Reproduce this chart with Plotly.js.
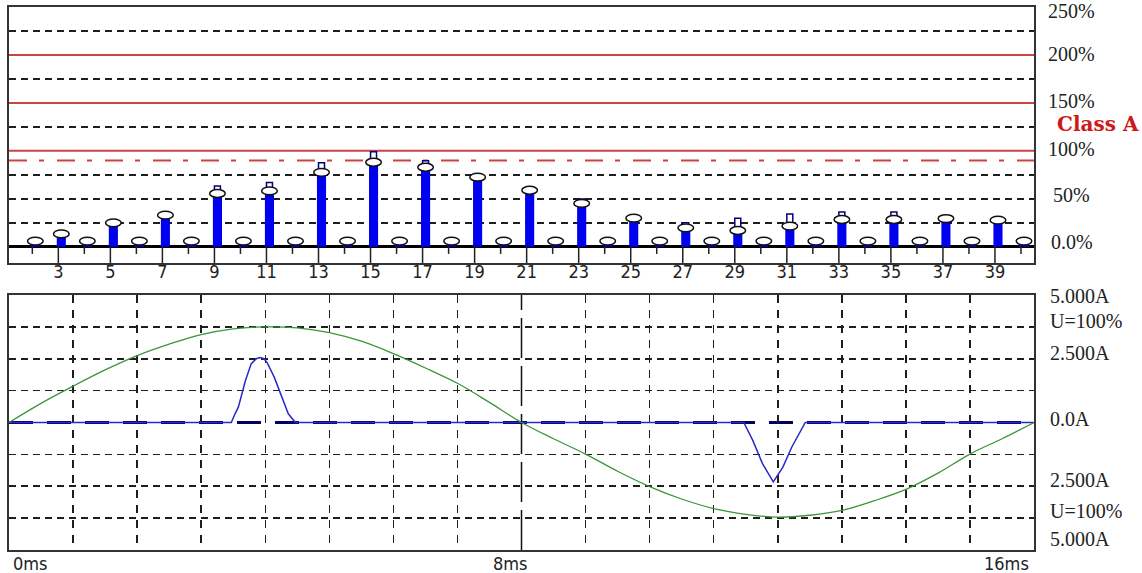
<!DOCTYPE html>
<html><head><meta charset="utf-8">
<script src="https://cdn.plot.ly/plotly-3.0.1.min.js"></script>
<style>html,body{margin:0;padding:0;background:#fff;}#chart{width:1142px;height:573px;}</style>
</head><body><div id="chart"></div>
<script>
// ---------------- data: harmonic spectrum (percent) ----------------
const harmonics = [2,3,4,5,6,7,8,9,10,11,12,13,14,15,16,17,18,19,20,21,22,23,24,25,26,27,28,29,30,31,32,33,34,35,36,37,38,39,40];
const levelPct  = [6,13.5,6,25,6,33,6,55.6,6,58.3,6,77.7,6,88.2,6,83,6,72.6,6,59,6,45.3,6,29.9,6,19.8,6,17,6,21.6,6,28.5,6,28.5,6,29.5,6,27.8,6];
const maxPct    = [6,13.5,6,25,6,33,6,63.2,6,67.1,6,87.5,6,99,6,89.6,6,72.6,6,59,6,49.7,6,29.9,6,25,6,29.6,6,34.1,6,36.1,6,36.1,6,29.5,6,27.8,6];
const harmonicTickVals = [3,5,7,9,11,13,15,17,19,21,23,25,27,29,31,33,35,37,39];
const pctLabelVals = [0,50,100,150,200,250];
const pctLabelText = ['0.0%','50%','100%','150%','200%','250%'];
const pctGridVals = [25,50,75,125,175,225];
const limitPct = [100,150,200];
const classALimitPct = 90;
const classAText = 'Class A';
const classALabelPct = 128;

// ---------------- data: waveform ----------------
const timeMs     = [0,0.5,1,1.5,2,2.5,3,3.5,4,4.5,5,5.5,6,6.5,7,7.5,8,8.5,9,9.5,10,10.5,11,11.5,12,12.5,13,13.5,14,14.5,15,15.5,16];
const voltagePct = [0,20,38,55,70,82,92,98,100,99,94,85,72,57,41,21,0,-17,-33,-51,-67,-80,-90,-96,-99,-97,-92,-82,-70,-53,-33,-17,0];
const currentTimeMs = [0,3.47,3.53,3.58,3.69,3.78,3.86,3.92,3.98,4.03,4.14,4.25,4.36,4.47,11.47,11.61,11.76,11.93,12.08,12.22,12.43,16];
const currentA      = [0,0,0.35,0.6,1.64,2.3,2.5,2.55,2.5,2.35,1.78,1.05,0.34,0,0,-0.7,-1.6,-2.33,-1.75,-0.96,0,0];
const timeGridMs = [1,2,3,4,5,6,7,9,10,11,12,13,14,15];
const centerMs = 8;
const ampGridVals = [-3.75,-2.5,-1.25,1.25,2.5,3.75];
const timeLabelVals = [0,8,16];
const timeLabelText = ['0ms','8ms','16ms'];
const ampLabelVals = [5,2.5,0,-2.5,-5];
const ampLabelText = ['5.000A','2.500A','0.0A','2.500A','5.000A'];
const voltLabelVals = [100,-100];
const voltLabelText = ['U=100%','U=100%'];

// ---------------- styles ----------------
const FRAME = '#333';
const GRID = '#1e1e1e';
const RED = '#c94444';
const barShift = 0.115;            // bars sit slightly right of stems
const pctLabelShift = [4.7,3.7,1.7,1.5,1.3,-3.5];
const ampLabelShift = [-0.8,6.2,3.7,6.2,10.7];
const voltLabelShift = [6.2,7.2];
const timeLabelAnchor = ['left','center','right'];
const timeLabelXShift = [2,-11,-3];
const serif = 'Liberation Serif';
const narrow = 'DejaVu Sans Condensed, Liberation Sans Narrow, sans-serif';

const withMax = harmonics.map((h,i)=>i).filter(i => maxPct[i] > levelPct[i]);

const traces = [
  { type:'bar', x:harmonics, y:levelPct, width:0.35, offset:-0.175+barShift,
    marker:{color:'#0000f0'}, xaxis:'x', yaxis:'y', hoverinfo:'skip' },
  { type:'bar', x:withMax.map(i=>harmonics[i]), base:withMax.map(i=>levelPct[i]),
    y:withMax.map(i=>maxPct[i]-levelPct[i]), width:0.23, offset:-0.115+barShift,
    marker:{color:'#ffffff', line:{color:'#000080', width:1.5}}, xaxis:'x', yaxis:'y', hoverinfo:'skip' },
  { type:'scatter', mode:'markers', x:harmonics, y:harmonics.map(()=>0),
    marker:{size:1, opacity:0},
    error_y:{type:'data', symmetric:false, array:harmonics.map(()=>0),
             arrayminus:harmonics.map(h => h % 2 ? 17 : 7.5), width:0, thickness:1.5, color:'#222'},
    xaxis:'x', yaxis:'y', hoverinfo:'skip' },
  { type:'scatter', mode:'lines', x:timeMs, y:voltagePct, xaxis:'x2', yaxis:'y3',
    line:{color:'#3a963a', width:1.3, shape:'spline'}, hoverinfo:'skip' },
  { type:'scatter', mode:'lines', x:currentTimeMs, y:currentA, xaxis:'x2', yaxis:'y2',
    line:{color:'#2828cc', width:1.5}, hoverinfo:'skip' }
];

const shapes = [];
limitPct.forEach(v => shapes.push({type:'line', xref:'x domain', x0:0, x1:1, yref:'y', y0:v, y1:v,
  line:{color:RED, width:2}, layer:'below'}));
shapes.push({type:'line', xref:'x domain', x0:0, x1:1, yref:'y', y0:classALimitPct, y1:classALimitPct,
  line:{color:RED, width:2, dash:'18px,12px,5px,13px'}, layer:'below'});
harmonics.forEach((h,i) => shapes.push({type:'circle', xref:'x', yref:'y',
  xsizemode:'pixel', ysizemode:'pixel', xanchor:h, yanchor:levelPct[i],
  x0:-7.8+3, x1:7.8+3, y0:-4, y1:3.8,
  fillcolor:'#ffffff', line:{color:'#111', width:1.5}}));
shapes.push({type:'line', xref:'x2 domain', x0:0, x1:1, yref:'y2', y0:0, y1:0,
  line:{color:'#000060', width:3, dash:'24px,14px'}, layer:'below'});
shapes.push({type:'line', xref:'x2', x0:centerMs, x1:centerMs, yref:'y2 domain', y0:0, y1:1,
  line:{color:'#111', width:1.5, dash:'40px,8px'}, layer:'below'});

const annotations = [];
pctLabelVals.forEach((v,i) => annotations.push({xref:'paper', x:1, xshift:37.5, xanchor:'center',
  yref:'y', y:v, yshift:pctLabelShift[i], yanchor:'middle', text:pctLabelText[i], showarrow:false,
  font:{family:serif, size:20, color:'#222'}}));
annotations.push({xref:'paper', x:1, xshift:64, xanchor:'center', yref:'y', y:classALabelPct,
  text:'<b>'+classAText+'</b>', showarrow:false, font:{family:'DejaVu Serif', size:20, color:'#d01818'}});
ampLabelVals.forEach((v,i) => annotations.push({xref:'paper', x:1, xshift:14, xanchor:'left',
  yref:'y2', y:v, yshift:ampLabelShift[i], yanchor:'middle', text:ampLabelText[i], showarrow:false,
  font:{family:serif, size:20, color:'#222'}}));
voltLabelVals.forEach((v,i) => annotations.push({xref:'paper', x:1, xshift:14, xanchor:'left',
  yref:'y3', y:v, yshift:voltLabelShift[i], yanchor:'middle', text:voltLabelText[i], showarrow:false,
  font:{family:serif, size:20, color:'#222'}}));
timeLabelVals.forEach((v,i) => annotations.push({xref:'x2', x:v, xshift:timeLabelXShift[i], xanchor:timeLabelAnchor[i],
  yref:'paper', y:0, yshift:-13, yanchor:'middle', text:timeLabelText[i], showarrow:false,
  font:{family:narrow, size:18, color:'#222'}}));

const frame = {showline:true, mirror:true, linecolor:FRAME, linewidth:2};
const layout = {
  width:1142, height:573, margin:{l:9, r:108, t:7, b:23},
  paper_bgcolor:'#fff', plot_bgcolor:'#fff', showlegend:false, barmode:'overlay',
  xaxis:Object.assign({domain:[0,1], range:[1.104,40.5], anchor:'y', tickvals:harmonicTickVals,
    ticktext:harmonicTickVals.map(String), ticks:'', showgrid:false, zeroline:false, ticklabelstandoff:-9,
    tickfont:{family:narrow, size:18, color:'#222'}}, frame),
  yaxis:Object.assign({domain:[0.5285,1], range:[-17,250], anchor:'x', tickvals:pctGridVals,
    showticklabels:false, ticks:'', showgrid:true, gridcolor:GRID, gridwidth:1.5, griddash:'7px,5px',
    zeroline:true, zerolinecolor:'#000', zerolinewidth:3}, frame),
  xaxis2:Object.assign({domain:[0,1], range:[0,16], anchor:'y2', tickvals:timeGridMs,
    showticklabels:false, ticks:'', showgrid:true, gridcolor:GRID, gridwidth:1.5, griddash:'8px,7px',
    zeroline:false}, frame),
  yaxis2:Object.assign({domain:[0,0.4696], range:[-5,5], anchor:'x2', tickvals:ampGridVals,
    showticklabels:false, ticks:'', showgrid:true, gridcolor:GRID, gridwidth:1.5, griddash:'7px,5px',
    zeroline:false}, frame),
  yaxis3:{overlaying:'y2', anchor:'x2', range:[-133.33,133.33], visible:false, showgrid:false, zeroline:false},
  shapes:shapes, annotations:annotations
};
Plotly.newPlot('chart', traces, layout, {staticPlot:true, displayModeBar:false});
</script></body></html>
